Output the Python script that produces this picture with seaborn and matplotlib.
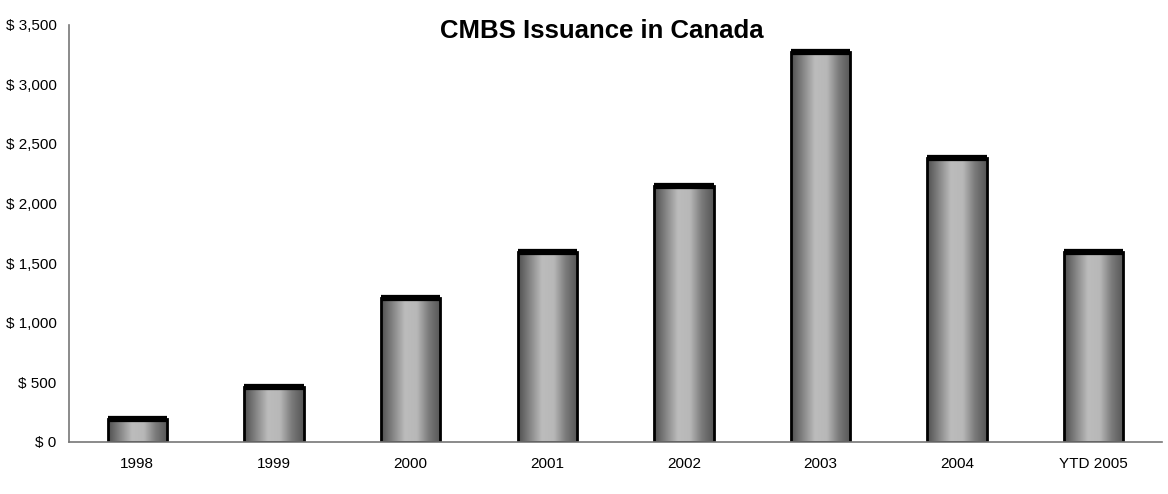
import numpy as np
import pandas as pd
import matplotlib
matplotlib.use("Agg")
import matplotlib.pyplot as plt
from matplotlib.colors import LinearSegmentedColormap
from matplotlib.ticker import FixedLocator, FuncFormatter
import seaborn as sns

# Annual CMBS issuance (millions of dollars)
years = ["1998", "1999", "2000", "2001", "2002", "2003", "2004", "YTD 2005"]
issuance = [190, 465, 1210, 1590, 2145, 3275, 2385, 1595]

sns.set_style("white")
plt.rcParams["font.family"] = ["Liberation Sans Narrow", "Liberation Sans", "DejaVu Sans"]

df = pd.DataFrame({"year": years, "issuance": issuance})

fig = plt.figure(figsize=(11.68, 4.94), dpi=100)
ax = fig.add_axes([0.0591, 0.1053, 0.9358, 0.8447])

sns.barplot(data=df, x="year", y="issuance", color="#999999", width=0.435,
            edgecolor="black", linewidth=2.0, ax=ax, zorder=2)

# Cylinder-like horizontal shading inside each bar
shade = LinearSegmentedColormap.from_list(
    "shade", ["#4f4f4f", "#858585", "#bcbcbc", "#b8b8b8", "#7a7a7a", "#555555"])
grad = np.linspace(0, 1, 256).reshape(1, -1)
for patch in ax.patches:
    x0, y0 = patch.get_x(), patch.get_y()
    w, h = patch.get_width(), patch.get_height()
    patch.set_facecolor("none")
    im = ax.imshow(grad, cmap=shade, aspect="auto", extent=[x0, x0 + w, y0, y0 + h],
                   zorder=1.5, interpolation="bicubic")
    im.set_clip_path(patch)
    ax.plot([x0, x0 + w], [y0 + h, y0 + h], color="black", linewidth=4.5,
            solid_capstyle="butt", zorder=3)

ax.set_xlim(-0.5, len(years) - 0.5)
ax.set_ylim(0, 3500)

ax.yaxis.set_major_locator(FixedLocator(np.arange(0, 3501, 500)))
ax.yaxis.set_major_formatter(FuncFormatter(lambda v, p: f"$ {v:,.0f}"))

# Category labels at centres, tick marks at category boundaries
ax.set_xticks(range(len(years)))
ax.set_xticklabels(years)
ax.set_xticks(np.arange(-0.5, len(years), 1.0), minor=True)
ax.tick_params(axis="x", which="major", length=0, pad=11, labelsize=11,
               labelcolor="black")
ax.tick_params(axis="x", which="minor", length=8, width=1.2, color="#222222",
               direction="out")
ax.tick_params(axis="y", which="major", length=5, width=1.0, color="#555555",
               direction="out", labelsize=11, pad=4, labelcolor="black")

for side in ["top", "right"]:
    ax.spines[side].set_visible(False)
for side in ["left", "bottom"]:
    ax.spines[side].set_color("#777777")
    ax.spines[side].set_linewidth(1.2)

ax.set_xlabel("")
ax.set_ylabel("")

fig.text(0.515, 0.937, "CMBS Issuance in Canada", ha="center", va="center",
         fontsize=18.5, fontweight="bold", color="black")

fig.savefig("out.png", dpi=100, facecolor="white")
